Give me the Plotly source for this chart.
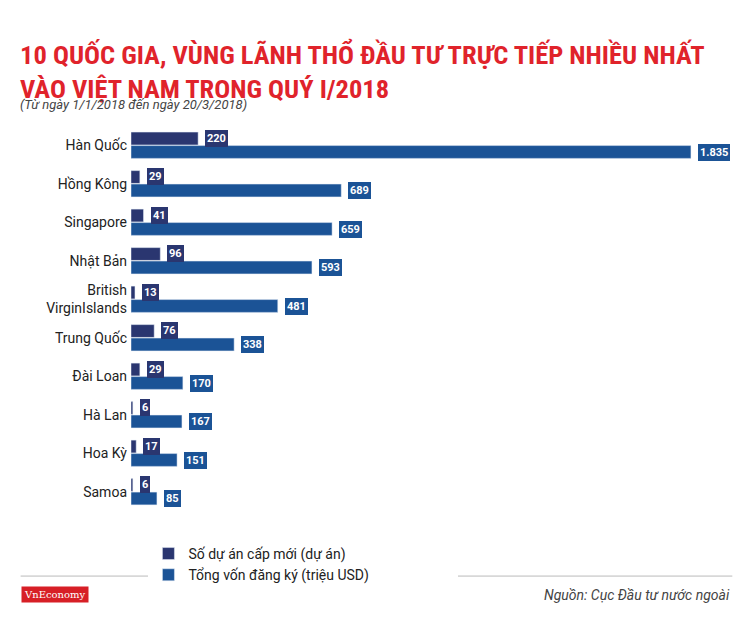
import plotly.graph_objects as go

countries = ["Hàn Quốc", "Hồng Kông", "Singapore", "Nhật Bản", "British<br>VirginIslands",
             "Trung Quốc", "Đài Loan", "Hà Lan", "Hoa Kỳ", "Samoa"]
projects = [220, 29, 41, 96, 13, 76, 29, 6, 17, 6]
capital = [1835, 689, 659, 593, 481, 338, 170, 167, 151, 85]
capital_labels = ["1.835", "689", "659", "593", "481", "338", "170", "167", "151", "85"]

dark = "#2a3670"
blue = "#1b5396"

fig = go.Figure()
fig.add_trace(go.Bar(name="Số dự án cấp mới (dự án)", y=countries, x=projects,
                     orientation="h", marker_color=dark))
fig.add_trace(go.Bar(name="Tổng vốn đăng ký (triệu USD)", y=countries, x=capital,
                     orientation="h", marker_color=blue))

# value tags
for i, c in enumerate(countries):
    fig.add_annotation(x=projects[i], y=c, text="<b>%d</b>" % projects[i], showarrow=False,
                       xanchor="left", yshift=7, xshift=7, bgcolor=dark, bordercolor=dark,
                       borderpad=1, font=dict(color="white", size=11))
    fig.add_annotation(x=capital[i], y=c, text="<b>%s</b>" % capital_labels[i], showarrow=False,
                       xanchor="left", yshift=-7, xshift=7, bgcolor=blue, bordercolor=blue,
                       borderpad=1, font=dict(color="white", size=11))

fig.update_layout(
    width=754, height=628,
    margin=dict(l=123, r=50, t=118, b=125, autoexpand=False),
    paper_bgcolor="white", plot_bgcolor="white",
    font=dict(family="Roboto, sans-serif", color="#222"),
    barmode="group", bargap=0.3, bargroupgap=0.05,
    xaxis=dict(range=[0, 1904], visible=False),
    yaxis=dict(autorange="reversed", tickfont=dict(size=14, color="#222"), ticks="",
               showline=False, ticklabelstandoff=3, automargin=False),
    showlegend=True,
    legend=dict(orientation="h", x=0.03, y=-0.07, xanchor="left", yanchor="top",
                font=dict(size=14), traceorder="normal",
                entrywidth=265, entrywidthmode="pixels"),
)

fig.add_annotation(xref="paper", yref="paper", x=-0.195, y=1.234, xanchor="left", yanchor="top",
                   text="<b>10 QUỐC GIA, VÙNG LÃNH THỔ ĐẦU TƯ TRỰC TIẾP NHIỀU NHẤT<br>VÀO VIỆT NAM TRONG QUÝ I/2018</b>",
                   align="left", showarrow=False,
                   font=dict(family="Liberation Sans Narrow, Roboto Condensed, Roboto", size=26.5, color="#e0232b"))
fig.add_annotation(xref="paper", yref="paper", x=-0.195, y=1.055, xanchor="left", yanchor="middle",
                   text="<i>(Từ ngày 1/1/2018 đến ngày 20/3/2018)</i>", showarrow=False,
                   font=dict(size=13, color="#444"))
fig.add_shape(type="line", xref="paper", yref="paper", x0=-0.19, x1=1.035, y0=-0.169, y1=-0.169,
              line=dict(color="#bbb", width=1))
fig.add_annotation(xref="paper", yref="paper", x=-0.19, y=-0.218, xanchor="left", yanchor="middle",
                   text="VnEconomy", showarrow=False, bgcolor="#d71f26",
                   font=dict(family="DejaVu Serif", size=10, color="white"), borderpad=2)
fig.add_annotation(xref="paper", yref="paper", x=1.035, y=-0.218, xanchor="right", yanchor="middle",
                   text="<i>Nguồn: Cục Đầu tư nước ngoài</i>", showarrow=False,
                   font=dict(size=14, color="#444"))

fig.write_html("out.html")
